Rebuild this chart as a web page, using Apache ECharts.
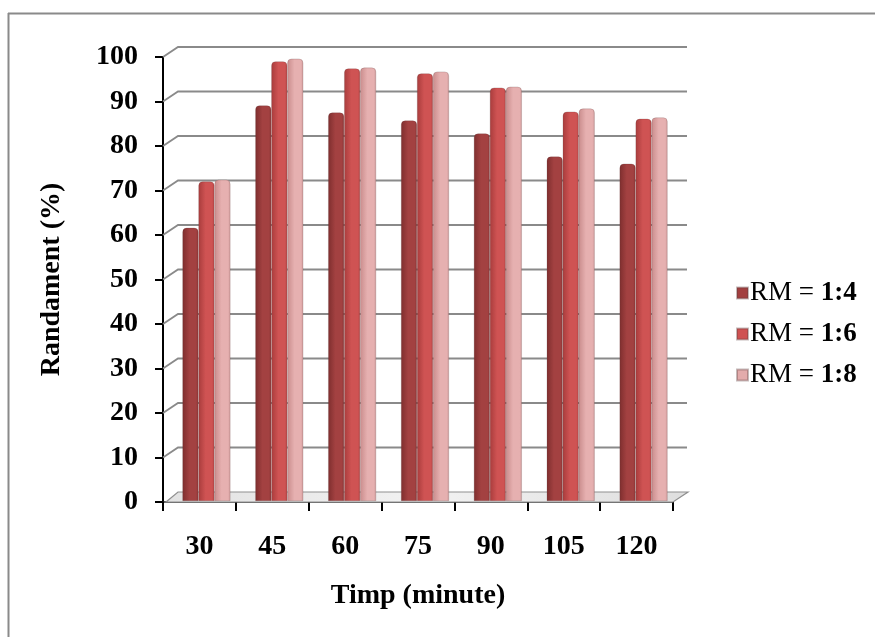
<!DOCTYPE html>
<html>
<head>
<meta charset="utf-8">
<script src="https://cdn.jsdelivr.net/npm/echarts@6/dist/echarts.min.js"></script>
<style>html,body{margin:0;padding:0;background:#fff}#c{width:875px;height:637px}</style>
</head>
<body>
<div id="c"></div>
<script>
var categories = ['30', '45', '60', '75', '90', '105', '120'];
var rm14 = [61.4, 88.9, 87.3, 85.5, 82.6, 77.4, 75.8];
var rm16 = [71.8, 98.8, 97.2, 96.1, 92.9, 87.5, 85.9];
var rm18 = [72.2, 99.4, 97.4, 96.5, 93.1, 88.2, 86.2];
var seriesNames = ['RM = 1:4', 'RM = 1:6', 'RM = 1:8'];
var legendParts = [['RM = ', '1:4'], ['RM = ', '1:6'], ['RM = ', '1:8']];
var yTicks = [0, 10, 20, 30, 40, 50, 60, 70, 80, 90, 100];

var FONT = '"Liberation Serif", "Times New Roman", serif';
var DX = 15, DY = -10;

function grad(c1, c2, c3) {
  return new echarts.graphic.LinearGradient(0, 0, 1, 0, [
    {offset: 0, color: c1}, {offset: 0.45, color: c2}, {offset: 0.85, color: c2}, {offset: 1, color: c3}
  ]);
}
var barColors = [
  grad('#7e2e2e', '#a34141', '#8a3535'),
  grad('#a83c3c', '#cf5353', '#b64545'),
  grad('#c98c8c', '#e6b0b0', '#cf9b9b')
];
var legendColors = ['#a23f3f', '#cf5252', '#e3abab'];

var chart = echarts.init(document.getElementById('c'));

var gridSeries = {
  type: 'custom', xAxisIndex: 0, yAxisIndex: 0, z: 1, silent: true, clip: false,
  data: yTicks.map(function (v) { return [0, v]; }),
  renderItem: function (params, api) {
    var cs = params.coordSys;
    var y = api.coord([0, api.value(1)])[1];
    var children = [];
    if (api.value(1) === 0) {
      children.push({
        type: 'polygon',
        shape: {points: [[cs.x + 3, y], [cs.x + cs.width, y], [cs.x + cs.width + DX, y + DY], [cs.x + DX, y + DY]]},
        style: {fill: new echarts.graphic.LinearGradient(0, 0, 1, 0, [
          {offset: 0, color: '#e2e2e2'}, {offset: 0.5, color: '#f2f2f2'}, {offset: 1, color: '#dedede'}]),
          stroke: '#8f8f8f', lineWidth: 1.2}
      });
    } else {
      children.push({
        type: 'polyline',
        shape: {points: [[cs.x, y], [cs.x + DX, y + DY], [cs.x + cs.width + DX - 1, y + DY]]},
        style: {stroke: '#8a8a8a', lineWidth: 1.8, fill: null}
      });
    }
    return {type: 'group', children: children};
  }
};

function barSeries(i, data) {
  return {
    name: seriesNames[i], type: 'bar', xAxisIndex: 1, yAxisIndex: 1, z: 3,
    data: data, barWidth: 16, barGap: '0%',
    itemStyle: {color: barColors[i], borderRadius: [4, 4, 0, 0], borderColor: 'rgba(90,60,60,0.35)', borderWidth: 0.6}
  };
}

chart.setOption({
  animation: false,
  backgroundColor: '#fff',
  grid: [
    {left: 163, right: 202, top: 57, bottom: 135},
    {left: 170, right: 195, top: 56, bottom: 136}
  ],
  legend: {
    orient: 'vertical', left: 731, top: 274, itemWidth: 11, itemHeight: 11, itemGap: 13, icon: 'rect',
    data: seriesNames.map(function (n, i) { return {name: n, itemStyle: {color: legendColors[i]}}; }),
    formatter: function (name) {
      var i = seriesNames.indexOf(name);
      return '{a|' + legendParts[i][0] + '}{b|' + legendParts[i][1] + '}';
    },
    textStyle: {
      fontFamily: FONT, fontSize: 27, color: '#000', padding: [0, 0, 0, -3], lineHeight: 28,
      rich: {
        a: {fontFamily: FONT, fontSize: 27, fontWeight: 'normal', color: '#000', lineHeight: 28},
        b: {fontFamily: FONT, fontSize: 27, fontWeight: 'bold', color: '#000', lineHeight: 28}
      }
    }
  },
  xAxis: [
    {
      type: 'category', gridIndex: 0, data: categories,
      axisLine: {lineStyle: {color: '#222', width: 1.5}},
      axisTick: {show: true, length: 9, lineStyle: {color: '#000', width: 2}},
      axisLabel: {fontFamily: FONT, fontSize: 28, fontWeight: 'bold', color: '#000', margin: 31},
      name: 'Timp (minute)', nameLocation: 'middle', nameGap: 80,
      nameTextStyle: {fontFamily: FONT, fontSize: 28, fontWeight: 'bold', color: '#000', verticalAlign: 'top'}
    },
    {type: 'category', gridIndex: 1, data: categories, show: false}
  ],
  yAxis: [
    {
      type: 'value', gridIndex: 0, min: 0, max: 100, interval: 10,
      axisLine: {show: true, lineStyle: {color: '#000', width: 2}},
      axisTick: {show: true, length: 8, lineStyle: {color: '#000', width: 2}},
      splitLine: {show: false},
      axisLabel: {fontFamily: FONT, fontSize: 28, fontWeight: 'bold', color: '#000', margin: 25},
      name: 'Randament (%)', nameLocation: 'middle', nameGap: 97, nameRotate: 90,
      nameTextStyle: {fontFamily: FONT, fontSize: 28, fontWeight: 'bold', color: '#000'}
    },
    {type: 'value', gridIndex: 1, min: 0, max: 100, interval: 10, show: false, splitLine: {show: false}}
  ],
  graphic: [
    {type: 'line', shape: {x1: 8, y1: 13.5, x2: 875, y2: 13.5}, style: {stroke: '#8a8a8a', lineWidth: 2}},
    {type: 'line', shape: {x1: 8.5, y1: 13, x2: 8.5, y2: 637}, style: {stroke: '#8a8a8a', lineWidth: 2}}
  ],
  series: [gridSeries, barSeries(0, rm14), barSeries(1, rm16), barSeries(2, rm18)]
});
</script>
</body>
</html>
